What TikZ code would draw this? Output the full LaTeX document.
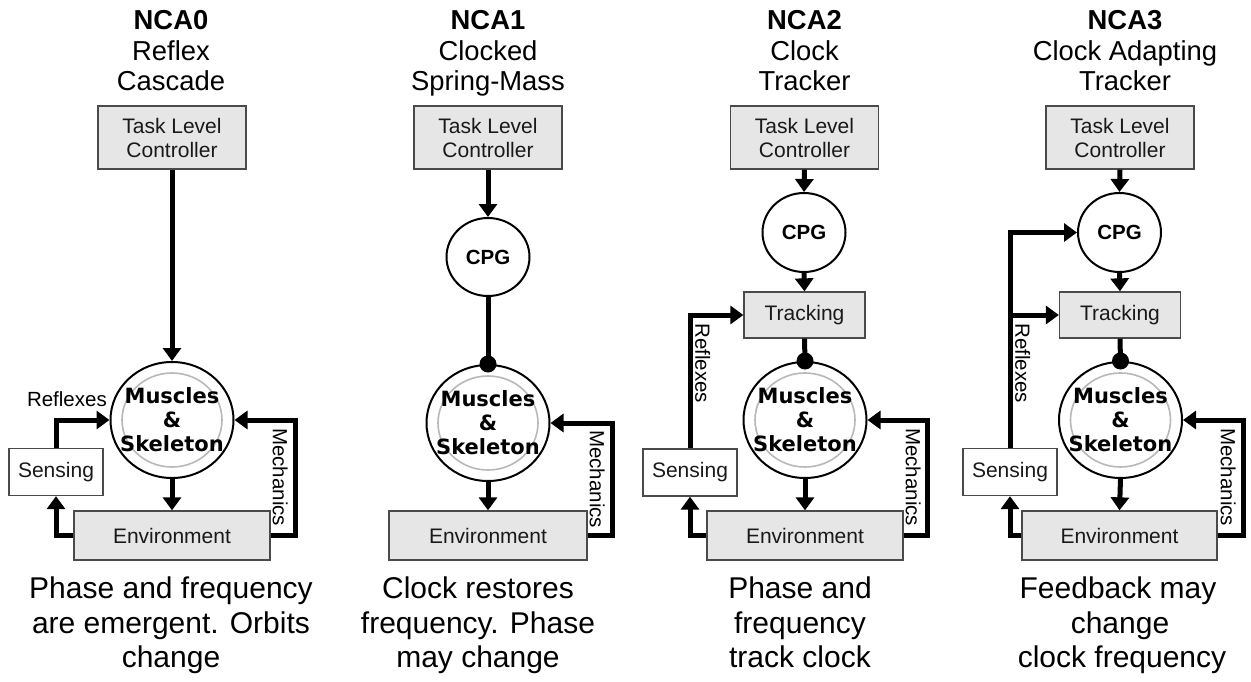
\documentclass[tikz,border=0pt]{standalone}
\usepackage{fontspec}
\setmainfont{Liberation Sans}
\newfontfamily\dejavu{DejaVu Sans}
\usetikzlibrary{arrows.meta,shapes.geometric}
\definecolor{boxfill}{HTML}{E6E6E6}
\definecolor{boxdraw}{HTML}{4A4A4A}
\definecolor{ringgray}{HTML}{B8B8B8}
\begin{document}
\begin{tikzpicture}[x=1pt,y=-1pt,
  box/.style={draw=boxdraw, line width=1.3pt, fill=boxfill, inner sep=0pt,
    font=\fontsize{21}{24}\selectfont, text=black!90, align=center},
  wbox/.style={box, fill=white},
  tlcbox/.style={box, minimum width=148pt, minimum height=63pt},
  trkbox/.style={box, minimum width=121pt, minimum height=46pt},
  sensbox/.style={wbox, minimum width=94pt, minimum height=47pt},
  envbox/.style={box, minimum width=196pt, minimum height=49pt},
  cpgnode/.style={ellipse, draw, line width=2pt, fill=white, inner sep=0pt,
    minimum width=83pt, minimum height=79pt, font=\fontsize{20.5}{22}\selectfont\bfseries},
  msnode/.style={ellipse, draw, line width=2pt, fill=white, inner sep=0pt,
    minimum width=123pt, minimum height=116pt,
    path picture={\draw[ringgray, line width=1.6pt] (path picture bounding box.center) ellipse [x radius=50pt, y radius=47pt];},
    label={[mstext]center:Muscles\\\&\\Skeleton}},
  mstext/.style={font=\dejavu\fontsize{21}{24}\selectfont\bfseries, align=center, inner sep=0pt},
  conn/.style={line width=5pt},
  arr/.style={conn, -{Triangle[length=13pt,width=18pt]}},
  lbl/.style={font=\fontsize{20.5}{24}\selectfont, inner sep=0pt},
  vlbl/.style={lbl, rotate=-90},
  ttl/.style={font=\fontsize{27.4}{30}\selectfont, inner sep=0pt, anchor=base},
  capt/.style={font=\fontsize{30}{34}\selectfont, inner sep=0pt, anchor=base}
]
\useasboundingbox (0,0) rectangle (1251,682);

% ================= NCA0 =================
\node[ttl] (t0a) at (171,30) {\bfseries NCA0};
\node[ttl] (t0b) at (171,60.5) {Reflex};
\node[ttl] (t0c) at (171,91) {Cascade};
\node[tlcbox] (tlc0) at (172,137.5) {Task Level\\Controller};
\node[msnode] (ms0) at (172,420) {};
\node[envbox] (env0) at (172,535.5) {Environment};
\node[sensbox] (sens0) at (56,472) {Sensing};
\coordinate (mx0) at (295,0);
\draw[arr] (tlc0.south) -- (ms0.north);
\draw[arr] (ms0.south) -- (env0.north);
\draw[arr] (env0.east) -| (mx0 |- ms0.east) -- (ms0.east);
\draw[arr] (env0.west) -| (sens0.south);
\draw[arr] (sens0.north) |- (ms0.west);
\node[lbl, anchor=base east] (rf0) at (107,406) {Reflexes};
\node[vlbl, anchor=north west] (mc0) at (288,428) {Mechanics};
\node[capt] (c0a) at (171,598) {Phase and frequency};
\node[capt] (c0b) at (171,633) {are emergent. Orbits};
\node[capt] (c0c) at (171,667) {change};

% ================= NCA1 =================
\node[ttl] (t1a) at (488,30) {\bfseries NCA1};
\node[ttl] (t1b) at (488,60.5) {Clocked};
\node[ttl] (t1c) at (488,91) {Spring-Mass};
\node[tlcbox] (tlc1) at (488,137.5) {Task Level\\Controller};
\node[cpgnode, minimum height=78pt] (cpg1) at (488,257) {CPG};
\node[msnode] (ms1) at (488,423) {};
\node[envbox, minimum width=198pt] (env1) at (488,535.5) {Environment};
\coordinate (mx1) at (612,0);
\draw[arr] (tlc1.south) -- (cpg1.north);
\draw[conn] (cpg1.south) -- (ms1.north);
\fill (ms1.north) circle [radius=8.5pt];
\draw[arr] (ms1.south) -- (env1.north);
\draw[arr] (env1.east) -| (mx1 |- ms1.east) -- (ms1.east);
\node[vlbl, anchor=north west] (mc1) at (605,430) {Mechanics};
\node[capt] (c1a) at (478,598) {Clock restores};
\node[capt] (c1b) at (478,633) {frequency. Phase};
\node[capt] (c1c) at (478,667) {may change};

% ================= NCA2 =================
\node[ttl] (t2a) at (804.5,30) {\bfseries NCA2};
\node[ttl] (t2b) at (804.5,60.5) {Clock};
\node[ttl] (t2c) at (804.5,91) {Tracker};
\node[tlcbox] (tlc2) at (804.5,137.5) {Task Level\\Controller};
\node[cpgnode] (cpg2) at (804,232.5) {CPG};
\node[trkbox] (trk2) at (804.5,315) {Tracking};
\node[msnode] (ms2) at (805,420) {};
\node[envbox] (env2) at (805,535.5) {Environment};
\node[sensbox] (sens2) at (690,472.5) {Sensing};
\coordinate (mx2) at (927,0);
\draw[arr] (tlc2.south) -- (cpg2.north);
\draw[arr] (cpg2.south) -- (trk2.north);
\draw[conn] (trk2.south) -- (ms2.north);
\fill (ms2.north) circle [radius=8.5pt];
\draw[arr] (ms2.south) -- (env2.north);
\draw[arr] (env2.east) -| (mx2 |- ms2.east) -- (ms2.east);
\draw[arr] (env2.west) -| (sens2.south);
\draw[arr] (sens2.north) |- (trk2.west);
\node[vlbl, anchor=south west] (rf2) at (695,323) {Reflexes};
\node[vlbl, anchor=north west] (mc2) at (921,428) {Mechanics};
\node[capt] (c2a) at (800,598) {Phase and};
\node[capt] (c2b) at (800,633) {frequency};
\node[capt] (c2c) at (800,667) {track clock};

% ================= NCA3 =================
\node[ttl] (t3a) at (1125,30) {\bfseries NCA3};
\node[ttl] (t3b) at (1125,60.5) {Clock Adapting};
\node[ttl] (t3c) at (1125,91) {Tracker};
\node[tlcbox] (tlc3) at (1120,137.5) {Task Level\\Controller};
\node[cpgnode] (cpg3) at (1119.5,232.5) {CPG};
\node[trkbox] (trk3) at (1120,315) {Tracking};
\node[msnode] (ms3) at (1120.5,420) {};
\node[envbox, minimum width=195pt] (env3) at (1119.5,535.5) {Environment};
\node[sensbox] (sens3) at (1010,472) {Sensing};
\coordinate (mx3) at (1243,0);
\coordinate (br3) at (sens3.north |- trk3.west);
\draw[arr] (tlc3.south) -- (cpg3.north);
\draw[arr] (cpg3.south) -- (trk3.north);
\draw[conn] (trk3.south) -- (ms3.north);
\fill (ms3.north) circle [radius=8.5pt];
\draw[arr] (ms3.south) -- (env3.north);
\draw[arr] (env3.east) -| (mx3 |- ms3.east) -- (ms3.east);
\draw[arr] (env3.west) -| (sens3.south);
\draw[arr] (sens3.north) |- (cpg3.west);
\draw[arr] (br3) -- (trk3.west);
\node[vlbl, anchor=south west] (rf3) at (1015,323) {Reflexes};
\node[vlbl, anchor=north west] (mc3) at (1236,428) {Mechanics};
\node[capt] (c3a) at (1118,598) {Feedback may};
\node[capt] (c3b) at (1120,633) {change};
\node[capt] (c3c) at (1122,667) {clock frequency};
\end{tikzpicture}
\end{document}
